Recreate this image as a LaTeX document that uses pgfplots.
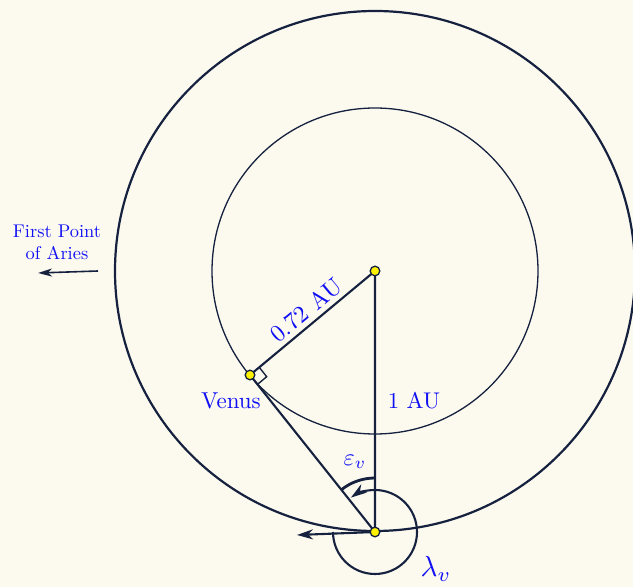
\documentclass[border=0pt]{standalone}
\usepackage{pgfplots}
\pgfplotsset{compat=1.18}
\usetikzlibrary{arrows.meta}
\definecolor{bg}{HTML}{FCFAEE}
\definecolor{navy}{HTML}{15213F}
\definecolor{lbl}{HTML}{1010F5}
\begin{document}
\begin{tikzpicture}
\begin{axis}[scale only axis, width=633pt, height=587pt,
  xmin=0, xmax=633, ymin=0, ymax=587, hide axis, clip=true]
\fill[bg] (axis cs:-5,-5) rectangle (axis cs:640,595);
% orbits
\draw[navy, line width=2.2pt] (axis cs:375,316) circle[radius=260pt];
\draw[navy, line width=1.3pt] (axis cs:375,316) circle[radius=163pt];
% triangle Sun - Venus - Earth
\addplot[navy, line width=2.1pt, line join=round] coordinates {(375,316) (250,212) (375,55) (375,316)};
% right angle mark
\addplot[navy, line width=1.4pt] coordinates {(259.2,219.7) (266.7,210.3) (257.5,202.6)};
% arrow to First Point of Aries from Earth
\addplot[navy, line width=2.1pt, -{Stealth[length=16pt,width=10pt,inset=5pt]}] coordinates {(375,55) (297,52)};
% First Point of Aries arrow
\addplot[navy, line width=1.6pt, -{Stealth[length=14pt,width=8pt,inset=4pt]}] coordinates {(98,316) (38,314)};
% lambda arc
\draw[navy, line width=2.1pt, -{Stealth[length=16pt,width=10pt,inset=5pt]}] (axis cs:333,55) arc[start angle=180, end angle=485, radius=42pt];
% epsilon arc
\draw[navy, line width=2.8pt] (axis cs:375,109) arc[start angle=90, end angle=128.5, radius=54pt];
% bodies
\addplot[only marks, mark=*, mark size=4.8pt, mark options={fill=yellow, draw=navy, line width=1.3pt}] coordinates {(375,316) (250,212) (375,55)};
% labels
\node[lbl, scale=2.4, rotate=39.8] at (axis cs:306,277) {0.72 AU};
\node[lbl, scale=2.3] at (axis cs:231,186) {Venus};
\node[lbl, scale=2.27] at (axis cs:414,186) {1 AU};
\node[lbl, scale=1.84, align=center] at (axis cs:57,345) {First Point\\of Aries};
\node[lbl, scale=2.4] at (axis cs:355,125) {$\varepsilon_v$};
\node[lbl, scale=2.9] at (axis cs:436,18) {$\lambda_v$};
\end{axis}
\end{tikzpicture}
\end{document}
